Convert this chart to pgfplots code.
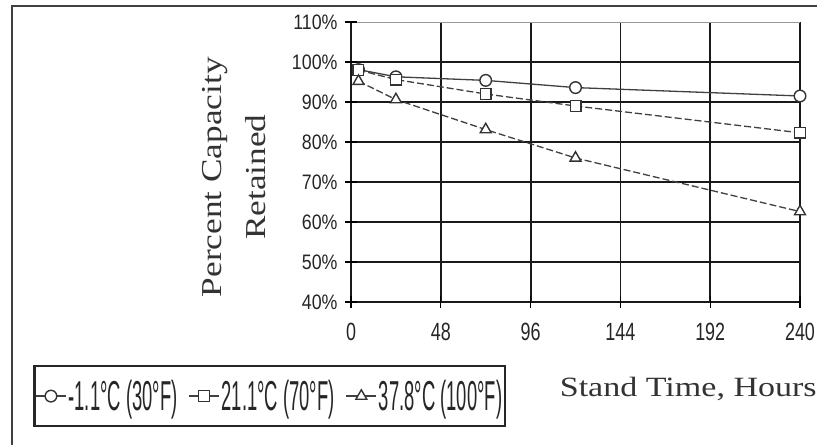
\documentclass[border=0pt]{standalone}
\usepackage{pgfplots}
\pgfplotsset{compat=1.18}
\usepackage{fontspec}
\setmainfont{Liberation Serif}
\newfontfamily\labelfont[FakeStretch=1.22]{Liberation Serif}
\newfontfamily\ytickfont[FakeStretch=0.85]{Liberation Sans}
\newfontfamily\xtickfont[FakeStretch=0.72]{Liberation Sans}
\newfontfamily\legfont[FakeStretch=0.44]{Liberation Sans}
\begin{document}
\begin{tikzpicture}[x=1bp,y=1bp]
\begin{axis}[
  at={(351bp,143bp)}, anchor=south west,
  scale only axis, width=449bp, height=280bp,
  xmin=0, xmax=240, ymin=40, ymax=110,
  xtick={0,48,96,144,192,240}, xticklabels={0,48,96,144,192,240},
  ytick={40,50,60,70,80,90,100},
  yticklabels={40\%,50\%,60\%,70\%,80\%,90\%,100\%},
  extra y ticks={110}, extra y tick labels={110\%},
  extra y tick style={grid style={black!40, line width=0.9bp}},
  grid=major, grid style={black!90, line width=1.8bp},
  axis line style={draw=none},
  tick pos=left, tick align=center, major tick length=12bp,
  tick style={black, line width=1.3bp},
  yticklabel style={font=\ytickfont\fontsize{21}{21}\selectfont, text=black!85, xshift=-4bp},
  xticklabel style={font=\xtickfont\fontsize{25}{25}\selectfont, text=black!85, yshift=-12bp},
  xlabel={Stand Time, Hours},
  xlabel style={font=\labelfont\fontsize{28}{28}\selectfont, text=black!80, at={(rel axis cs:1.045,-0.339)}, anchor=base east},
  ylabel={Percent Capacity\\Retained},
  ylabel style={font=\labelfont\fontsize{29}{44}\selectfont, text=black!80, align=center, at={(rel axis cs:-0.2606,0.446)}, anchor=center},
  clip=false,
  legend columns=3,
  legend cell align=left,
  legend image code/.code={\draw[mark repeat=2,mark phase=2,#1,solid] plot coordinates {(0bp,0bp) (15bp,0bp) (30bp,0bp)};},
  legend style={at={(rel axis cs:-0.708,-0.225)}, anchor=north west, draw=black!85, line width=2.4bp,
    font=\legfont\fontsize{42}{42}\selectfont, text=black!85, inner xsep=1bp, inner ysep=12bp,
    /tikz/every even column/.append style={column sep=9bp}},
]
\addplot[black!75, line width=1.3bp, mark=*, mark size=5.8bp, mark options={solid, fill=white, draw=black!80, line width=1.4bp}]
  coordinates {(4,98.1) (24,96.3) (72,95.4) (120,93.6) (240,91.5)};
\addlegendentry{-1.1°C (30°F)}
\addplot[black!75, line width=1.3bp, dash pattern=on 7bp off 3bp, mark=square*, mark size=5.3bp, mark options={solid, fill=white, draw=black!80, line width=1.4bp}]
  coordinates {(4,98.0) (24,95.6) (72,92.0) (120,89.0) (240,82.3)};
\addlegendentry{21.1°C (70°F)}
\addplot[black!75, line width=1.3bp, dash pattern=on 7bp off 3bp, mark=triangle*, mark size=6.3bp, mark options={solid, fill=white, draw=black!80, line width=1.4bp}]
  coordinates {(4,95.2) (24,90.6) (72,83.1) (120,76.0) (240,62.6)};
\addlegendentry{37.8°C (100°F)}
\end{axis}
\draw[line width=2bp, black!75] (12,-10) -- (12,439) -- (840,439);
\pgfresetboundingbox
\useasboundingbox (0,0) rectangle (817,445);
\end{tikzpicture}
\end{document}
